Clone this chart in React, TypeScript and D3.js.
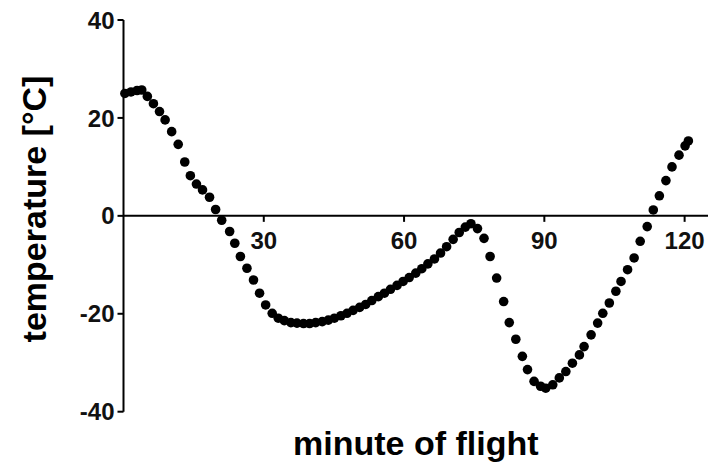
import React from "react";
import * as d3 from "d3";

const minutes = [
  0.3, 1.6, 2.9, 3.9, 5.1, 6.4, 7.7, 8.9, 10.3, 11.7, 13.1, 14.3, 15.6, 16.9, 18.4, 19.7,
  21.0, 22.7, 23.8, 25.0, 26.4, 27.8, 29.1, 30.4, 31.8, 33.1, 34.4, 35.8, 37.1, 38.5, 39.8,
  41.1, 42.5, 43.8, 45.1, 46.5, 47.8, 49.1, 50.5, 51.8, 53.1, 54.5, 55.8, 57.1, 58.5, 59.8,
  61.1, 62.5, 63.8, 65.1, 66.5, 67.8, 69.1, 70.5, 71.8, 73.1, 74.3, 75.7, 77.1, 78.4, 79.8,
  81.3, 82.5, 83.9, 85.3, 86.4, 87.8, 89.2, 90.3, 91.8, 93.2, 94.6, 96.0, 97.5, 98.5, 100.0,
  101.4, 102.5, 103.9, 105.3, 106.4, 107.8, 109.2, 110.5, 112.0, 113.3, 114.6, 116.0, 117.3,
  118.8, 120.1, 120.8,
];

const temps = [
  25.0, 25.3, 25.6, 25.7, 24.4, 22.9, 21.3, 19.6, 17.2, 14.6, 11.0, 8.2, 6.5, 5.3, 3.8, 1.3,
  -0.9, -3.2, -5.6, -8.3, -10.7, -13.1, -15.8, -18.2, -19.9, -20.9, -21.4, -21.8, -21.9, -22.0, -22.0,
  -21.8, -21.6, -21.3, -20.9, -20.4, -19.9, -19.3, -18.7, -18.1, -17.3, -16.5, -15.8, -15.0, -14.2, -13.4,
  -12.6, -11.7, -10.8, -9.8, -8.8, -7.6, -6.3, -4.8, -3.4, -2.3, -1.6, -2.6, -4.6, -8.3, -12.7,
  -17.5, -21.8, -25.2, -28.7, -31.4, -33.8, -34.8, -35.2, -34.5, -33.1, -31.8, -30.1, -28.4, -26.7, -24.3,
  -21.9, -19.9, -17.8, -15.4, -13.4, -11.0, -8.6, -5.2, -2.2, 1.2, 4.1, 7.2, 10.0,
  12.4, 14.3, 15.3,
];

const xTicks = [30, 60, 90, 120];
const yTicks = [-40, -20, 0, 20, 40];
const xTitle = "minute of flight";
const yTitle = "temperature [°C]";

const W = 710;
const H = 469;
const FONT = "'Liberation Sans', Arial, Helvetica, sans-serif";

export default function App() {
  const x = d3.scaleLinear().domain([0, 125]).range([123.5, 708]);
  const y = d3.scaleLinear().domain([-40, 40]).range([411.7, 20]);
  const points = minutes.map((m, i) => ({ m, t: temps[i] }));
  const x0 = x(0);
  const y0 = y(0);

  return (
    <svg
      width={W}
      height={H}
      style={{ position: "absolute", left: 0, top: 0, background: "#fff" }}
      fontFamily={FONT}
    >
      <rect x={0} y={0} width={W} height={H} fill="#fff" />
      {/* y axis */}
      <line x1={x0} x2={x0} y1={y(40)} y2={y(-40)} stroke="#000" strokeWidth={2} />
      {yTicks.map((v) => (
        <g key={"y" + v}>
          <line x1={x0 - 6} x2={x0} y1={y(v)} y2={y(v)} stroke="#000" strokeWidth={2} />
          <text
            x={x0 - 9}
            y={y(v)}
            dy="0.36em"
            textAnchor="end"
            fontSize={24}
            fontWeight="bold"
            fill="#111"
          >
            {v}
          </text>
        </g>
      ))}
      {/* x axis at zero */}
      <line x1={x0} x2={x(125)} y1={y0} y2={y0} stroke="#000" strokeWidth={2} />
      {xTicks.map((v) => (
        <g key={"x" + v}>
          <line x1={x(v)} x2={x(v)} y1={y0} y2={y0 + 6} stroke="#000" strokeWidth={2} />
          <text
            x={x(v)}
            y={y0 + 33}
            textAnchor="middle"
            fontSize={24}
            fontWeight="bold"
            fill="#111"
          >
            {v}
          </text>
        </g>
      ))}
      {/* points */}
      {points.map((p, i) => (
        <circle key={i} cx={x(p.m)} cy={y(p.t)} r={4.8} fill="#000" />
      ))}
      {/* titles */}
      <text
        x={(x0 + x(125)) / 2}
        y={455}
        textAnchor="middle"
        fontSize={34}
        fontWeight="bold"
        fill="#000"
      >
        {xTitle}
      </text>
      <text
        transform={`translate(46, 209) rotate(-90)`}
        textAnchor="middle"
        fontSize={34}
        fontWeight="bold"
        fill="#000"
      >
        {yTitle}
      </text>
    </svg>
  );
}
